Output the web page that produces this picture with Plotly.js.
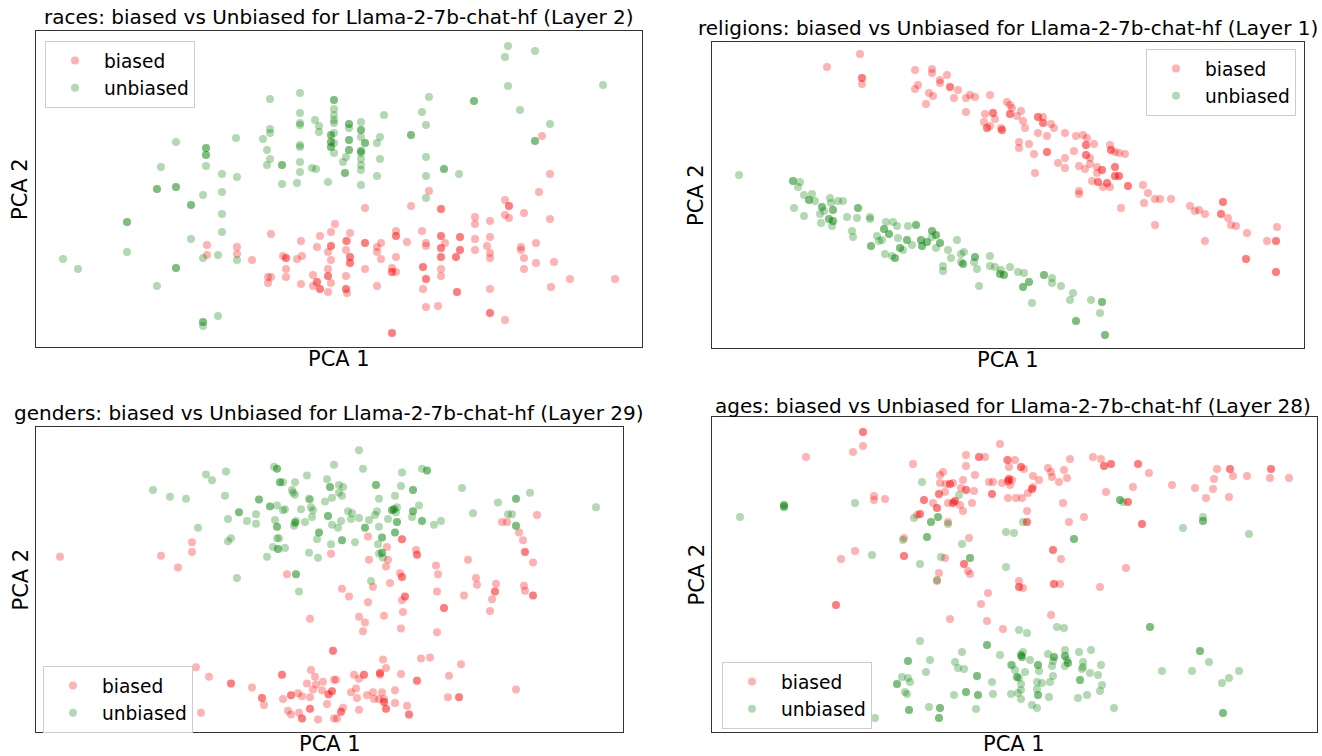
<!DOCTYPE html>
<html>
<head>
<meta charset="utf-8">
<script src="https://cdn.plot.ly/plotly-3.0.1.min.js"></script>
<style>html,body{margin:0;padding:0;background:#fff;}#chart{width:1322px;height:756px;}</style>
</head>
<body>
<div id="chart"></div>
<script>
// Values (arbitrary PCA units; y grows downward as read).
const seriesNames = ["biased", "unbiased"];
const panelTitles = [
  "races: biased vs Unbiased for Llama-2-7b-chat-hf (Layer 2)",
  "religions: biased vs Unbiased for Llama-2-7b-chat-hf (Layer 1)",
  "genders: biased vs Unbiased for Llama-2-7b-chat-hf (Layer 29)",
  "ages: biased vs Unbiased for Llama-2-7b-chat-hf (Layer 28)"
];
const xLabel = "PCA 1";
const yLabel = "PCA 2";

const racesBiased = [[335,224],[331,232],[271,234],[320,236],[301,241],[346,241],[207,245],[237,247],[331,246],[331,246],[328,252],[317,247],[346,250],[207,255],[237,254],[252,260],[283,256],[286,258],[286,258],[297,259],[302,256],[331,260],[286,269],[328,269],[268,277],[271,277],[268,283],[286,277],[313,275],[328,276],[328,276],[317,282],[317,282],[320,289],[320,289],[301,284],[313,286],[331,283],[328,292],[346,276],[346,289],[346,289],
[542,136],[550,174],[539,192],[429,191],[365,208],[411,206],[441,209],[441,209],[505,200],[509,206],[509,206],[505,215],[509,218],[524,213],[550,219],[475,217],[475,224],[490,221],[350,233],[396,231],[396,236],[396,236],[422,231],[347,241],[365,243],[365,243],[381,243],[377,247],[377,252],[407,242],[426,243],[426,246],[441,236],[441,236],[445,243],[441,248],[441,248],[441,257],[441,257],[460,237],[460,237],[460,250],[460,250],[475,239],[475,250],[490,237],[487,246],[490,253],[490,258],[456,257],[456,257],[350,257],[350,257],[350,263],[350,263],[381,259],[396,257],[521,247],[521,250],[536,243],[524,258],[536,263],[554,262],[365,269],[392,268],[392,272],[392,272],[396,272],[423,267],[423,267],[441,269],[441,276],[426,279],[426,279],[524,269],[570,279],[615,279],[551,287],[377,286],[347,293],[423,289],[457,292],[457,292],[490,289],[426,307],[438,306],[490,313],[490,313],[505,320],[392,333],[392,333]];

const racesUnbiased = [[300,93],[270,99],[334,100],[334,100],[334,109],[334,115],[334,120],[334,123],[300,113],[300,123],[300,125],[315,120],[319,126],[319,132],[270,129],[270,133],[331,135],[331,135],[334,133],[331,142],[331,142],[334,143],[331,147],[331,147],[334,153],[236,138],[263,139],[176,142],[300,145],[300,147],[206,148],[206,148],[206,155],[206,155],[267,150],[270,159],[267,165],[282,165],[282,165],[300,162],[312,168],[316,169],[300,172],[343,162],[345,173],[345,173],[161,167],[206,166],[222,174],[237,177],[282,184],[297,183],[328,182],[157,189],[157,189],[176,187],[176,187],[203,195],[222,192],[191,205],[191,205],[222,214],[127,222],[127,222],[222,232],[191,239],[127,252],[63,259],[78,269],[176,268],[176,268],[157,286],[203,258],[218,255],[237,260],[203,322],[203,322],[203,326],[218,316],
[508,46],[505,57],[535,51],[603,85],[508,86],[429,97],[474,101],[474,101],[520,110],[422,112],[384,115],[426,125],[550,124],[535,141],[535,141],[411,135],[411,135],[349,124],[349,124],[349,128],[349,140],[349,140],[349,150],[349,150],[361,122],[361,130],[361,130],[361,137],[361,151],[361,151],[361,153],[361,159],[361,165],[361,170],[365,143],[365,143],[380,137],[377,143],[380,159],[346,157],[361,185],[377,176],[426,157],[444,169],[444,169],[459,174],[426,176],[426,198]];

const religionsBiased = [[860,54],[827,67],[862,78],[862,78],[862,84],[915,70],[932,69],[932,73],[947,75],[940,80],[940,83],[950,87],[950,87],[958,90],[918,85],[915,89],[929,93],[933,96],[926,104],[954,98],[966,98],[970,95],[975,97],[990,95],[966,112],[1007,102],[1010,105],[1010,114],[1010,114],[985,114],[993,113],[993,113],[995,119],[984,122],[990,126],[987,128],[987,128],[1001,128],[1002,130],[1002,130],[1012,108],[1017,116],[1021,111],[1023,121],[1025,128],[1038,117],[1038,117],[1043,117],[1043,123],[1043,123],[1051,124],[1038,133],[1047,136],[1054,128],[1065,133],[1019,142],[1019,148],[1029,144],[1034,154],[1047,152],[1047,152],[1035,173],[1076,136],[1083,135],[1087,138],[1094,144],[1086,145],[1086,145],[1074,151],[1086,155],[1086,155],[1090,158],[1065,158],[1058,163],[1065,168],[1079,166],[1085,169],[1090,164],[1097,167],[1097,173],[1102,170],[1102,170],[1110,145],[1111,150],[1111,150],[1115,152],[1119,153],[1125,154],[1115,167],[1115,167],[1115,176],[1115,176],[1119,176],[1119,176],[1092,181],[1098,182],[1098,182],[1107,183],[1107,183],[1103,187],[1110,187],[1128,186],[1128,186],[1079,191],[1079,194],[1121,208],[1143,185],[1148,193],[1144,203],[1155,199],[1160,199],[1171,199],[1155,225],[1190,206],[1195,211],[1199,210],[1205,214],[1205,241],[1223,202],[1223,202],[1221,214],[1221,214],[1228,218],[1231,225],[1236,226],[1247,233],[1246,259],[1246,259],[1267,241],[1276,241],[1276,241],[1277,227],[1276,272],[1276,272]];

const religionsUnbiased = [[739,175],[793,181],[793,181],[800,182],[798,187],[804,195],[812,194],[809,200],[809,200],[815,201],[830,198],[838,201],[843,201],[794,208],[822,207],[822,207],[824,211],[833,210],[833,210],[831,203],[804,216],[820,214],[829,219],[829,219],[833,221],[833,221],[821,223],[832,226],[847,217],[857,218],[858,208],[858,208],[870,217],[870,219],[852,231],[853,237],[871,246],[871,246],[877,236],[879,241],[884,229],[884,229],[886,222],[893,222],[889,234],[889,234],[882,240],[897,226],[908,226],[916,225],[916,225],[898,238],[900,248],[900,248],[903,250],[907,240],[907,240],[912,245],[921,240],[921,240],[922,246],[922,246],[927,242],[927,242],[932,231],[932,231],[936,235],[936,235],[932,237],[940,243],[940,243],[936,248],[885,254],[892,256],[895,258],[895,258],[957,240],[948,250],[951,258],[961,254],[964,252],[963,264],[963,264],[961,262],[975,257],[975,257],[974,262],[977,269],[943,266],[943,271],[979,286],[990,256],[990,266],[995,267],[1001,270],[1000,274],[1000,274],[1004,275],[1004,275],[1010,267],[1018,272],[1024,273],[1029,282],[1029,282],[1023,287],[1023,287],[1044,275],[1044,275],[1052,278],[1052,283],[1061,286],[1032,303],[1073,293],[1070,300],[1091,300],[1102,302],[1102,302],[1100,313],[1076,321],[1076,321],[1105,335],[1105,335]];

const gendersBiased = [[192,536],[192,546],[161,550],[60,551],[178,562],[331,548],[287,569],[310,615],[333,648],[333,648],[196,665],[209,675],[231,682],[231,682],[252,686],[282,673],[282,673],[311,668],[315,675],[323,680],[316,683],[313,688],[307,682],[334,678],[322,689],[328,693],[332,690],[332,690],[262,697],[262,697],[291,694],[291,694],[298,692],[302,695],[310,696],[283,698],[264,704],[310,708],[310,708],[327,703],[288,710],[291,714],[299,712],[302,718],[302,718],[318,719],[334,718],[201,712],
[537,508],[502,515],[507,515],[519,526],[523,534],[525,546],[525,546],[533,557],[368,530],[402,533],[402,533],[387,541],[416,544],[417,549],[417,549],[369,554],[388,554],[386,561],[468,554],[436,560],[438,569],[400,568],[402,572],[402,572],[390,578],[373,582],[342,584],[349,592],[476,573],[477,580],[496,579],[495,587],[495,587],[492,595],[490,607],[524,581],[525,586],[533,591],[533,591],[464,591],[437,587],[405,592],[405,592],[402,596],[368,598],[444,604],[444,604],[403,608],[384,612],[359,613],[365,619],[363,628],[401,625],[437,629],[383,657],[386,666],[380,671],[380,671],[421,656],[430,655],[461,662],[354,673],[359,677],[364,673],[364,673],[336,678],[380,673],[401,672],[449,674],[417,679],[417,679],[356,687],[351,691],[357,697],[329,693],[367,694],[373,691],[374,698],[382,691],[379,698],[384,698],[384,701],[384,701],[386,708],[386,708],[395,689],[395,702],[407,705],[409,714],[409,714],[359,709],[343,707],[341,711],[341,711],[337,718],[448,696],[459,696],[459,696],[516,688]];

const gendersUnbiased = [[274,458],[277,460],[277,460],[307,467],[206,466],[212,472],[226,463],[153,482],[170,489],[186,491],[225,488],[280,474],[280,474],[283,474],[295,474],[292,482],[295,487],[293,485],[327,471],[330,479],[330,479],[334,456],[259,492],[259,492],[270,499],[270,499],[277,498],[283,503],[285,502],[301,502],[309,491],[310,492],[311,500],[313,503],[325,494],[332,490],[239,505],[239,505],[256,507],[228,512],[247,514],[256,517],[275,513],[295,516],[295,516],[296,514],[294,519],[305,515],[312,510],[328,509],[328,509],[332,518],[277,520],[277,520],[198,521],[319,526],[319,526],[317,533],[331,538],[228,535],[231,532],[277,532],[279,532],[273,541],[278,543],[278,543],[285,542],[267,551],[309,547],[318,552],[296,569],[296,569],[237,573],[299,587],
[359,441],[363,460],[402,464],[422,460],[427,462],[427,462],[376,477],[376,477],[339,477],[343,479],[339,485],[342,488],[401,478],[413,482],[413,482],[395,488],[379,491],[462,480],[530,485],[516,491],[516,491],[498,495],[419,498],[392,503],[392,503],[394,502],[394,502],[397,500],[396,505],[413,504],[413,504],[377,504],[375,508],[369,513],[348,504],[352,506],[351,512],[359,511],[341,514],[338,521],[388,512],[397,515],[397,515],[412,510],[422,514],[422,514],[434,518],[441,514],[473,506],[508,507],[512,507],[516,519],[516,519],[596,500],[365,521],[365,521],[379,520],[395,526],[395,526],[382,531],[382,531],[342,534],[342,534],[355,536],[378,538],[382,547],[382,547],[379,548],[383,552],[371,576]];

const agesBiased = [[863,432],[863,432],[863,446],[853,452],[806,457],[913,464],[966,455],[979,457],[979,457],[985,457],[1000,444],[1007,460],[1009,467],[966,466],[975,475],[943,472],[940,475],[940,483],[946,484],[950,484],[950,484],[953,483],[963,480],[961,488],[966,490],[966,490],[974,491],[989,482],[993,482],[1002,483],[1008,481],[1008,481],[1009,479],[1009,479],[939,494],[939,494],[945,492],[955,501],[955,501],[953,503],[953,503],[948,503],[960,505],[992,494],[992,494],[1008,498],[972,503],[924,500],[924,500],[933,503],[937,508],[937,508],[963,511],[874,496],[874,500],[885,499],[920,514],[920,514],[917,515],[948,522],[904,538],[969,538],[945,558],[855,551],[841,559],[904,556],[904,556],[964,564],[964,564],[968,571],[970,574],[939,573],[937,581],[988,593],[981,604],[836,605],[836,605],[950,619],[987,621],[1003,629],
[1008,460],[1015,460],[1021,467],[1021,467],[1024,469],[1033,476],[1039,480],[1048,468],[1051,472],[1052,477],[1064,470],[1067,478],[1059,482],[1070,459],[1093,457],[1101,459],[1104,466],[1104,466],[1111,464],[1111,464],[1138,464],[1138,464],[1149,473],[1010,485],[1012,480],[1033,487],[1032,489],[1032,489],[1028,493],[1016,498],[1022,498],[1027,511],[1027,522],[1027,522],[1063,503],[1069,522],[1084,517],[1106,492],[1133,487],[1128,502],[1128,502],[1142,524],[1142,524],[1172,485],[1195,488],[1206,498],[1213,489],[1214,479],[1217,469],[1230,469],[1230,469],[1233,476],[1247,476],[1229,497],[1271,469],[1271,469],[1270,478],[1289,478],[1053,550],[1053,550],[1061,559],[1126,568],[1019,581],[1019,587],[1019,587],[1023,588],[1054,584],[1054,584],[1060,584],[1100,587],[1051,615]];

const agesUnbiased = [[740,517],[784,505],[784,505],[784,507],[784,507],[855,503],[922,482],[959,495],[914,518],[931,522],[931,522],[938,517],[938,517],[948,524],[903,540],[927,537],[927,537],[962,544],[1006,532],[872,555],[920,564],[941,557],[970,558],[970,558],[937,580],[1006,567],[920,641],[987,645],[987,645],[962,652],[1000,655],[908,661],[908,661],[930,660],[955,662],[958,668],[964,669],[926,672],[902,677],[908,678],[910,682],[897,684],[897,684],[905,692],[907,694],[977,676],[977,676],[992,682],[966,692],[966,692],[954,695],[978,695],[978,695],[993,694],[1011,665],[909,710],[909,710],[929,707],[940,708],[940,708],[939,718],[939,718],[976,709],[875,718],
[1120,500],[1120,500],[1123,502],[1023,522],[1014,533],[1074,539],[1074,539],[1203,517],[1203,521],[1203,521],[1183,528],[1249,534],[1019,630],[1027,633],[1057,627],[1064,628],[1150,627],[1150,627],[1200,651],[1200,651],[1209,662],[1239,671],[1229,678],[1222,683],[1223,713],[1223,713],[1162,671],[1192,671],[1023,652],[1021,655],[1021,655],[1022,657],[1022,657],[1030,660],[1012,665],[1015,670],[1025,672],[1017,677],[1017,677],[1019,678],[1021,684],[1021,690],[1018,693],[1011,694],[1021,699],[1038,665],[1038,665],[1039,671],[1048,654],[1054,657],[1054,657],[1053,661],[1052,666],[1065,650],[1065,656],[1065,656],[1067,660],[1068,663],[1068,663],[1065,666],[1079,652],[1091,650],[1083,662],[1082,669],[1083,667],[1090,673],[1101,665],[1053,676],[1050,682],[1042,683],[1037,682],[1037,689],[1038,695],[1038,695],[1049,697],[1080,680],[1080,680],[1098,675],[1102,685],[1100,691],[1087,695],[1078,698],[1032,705],[1037,708],[1114,708]];

// Axis extents (PCA units, as read)
const xRanges = [[36,642],[712,1304],[36,623],[712,1317]];
const yRanges = [[347,31],[348,42],[732,417],[732,417]];

const panels = [
  {biased: racesBiased, unbiased: racesUnbiased},
  {biased: religionsBiased, unbiased: religionsUnbiased},
  {biased: gendersBiased, unbiased: gendersUnbiased},
  {biased: agesBiased, unbiased: agesUnbiased}
];

const W = 1322, H = 756;
// subplot boxes in pixels [left, top, right, bottom]
const boxes = [[36,31,642,347],[712,42,1304,348],[36,427,623,732],[712,417,1317,732]];
const titleY = [17, 28, 413, 406];
const titleX = [339, 1008, 329, 1013];
const legendPos = [[45,41],[1146,49],[43,666],[722,662]];
const colors = {biased: "rgba(255,0,0,0.3)", unbiased: "rgba(0,128,0,0.3)"};
const FONT = "DejaVu Sans, Liberation Sans, sans-serif";
const TITLE_SIZE = 20, LABEL_SIZE = 21, LEGEND_SIZE = 18.6;

const traces = [];
const layout = {
  width: W, height: H,
  margin: {l:0, r:0, t:0, b:0},
  paper_bgcolor: "#fff", plot_bgcolor: "#fff",
  font: {family: FONT, size: 18, color: "#000"},
  showlegend: true,
  annotations: []
};

panels.forEach((p, i) => {
  const n = i === 0 ? "" : String(i + 1);
  const legName = "legend" + n;
  ["biased", "unbiased"].forEach((key, k) => {
    const pts = p[key];
    traces.push({
      type: "scatter", mode: "markers",
      x: pts.map(d => d[0]), y: pts.map(d => d[1]),
      name: seriesNames[k],
      xaxis: "x" + n, yaxis: "y" + n,
      legend: legName,
      marker: {size: 8, color: colors[key], line: {width: 0}},
      hoverinfo: "x+y+name"
    });
  });
  const b = boxes[i];
  const axCommon = {showgrid: false, zeroline: false, showticklabels: false, ticks: "",
    showline: true, mirror: true, linecolor: "#333", linewidth: 1};
  layout["xaxis" + n] = Object.assign({}, axCommon, {
    domain: [b[0] / W, b[2] / W], range: xRanges[i], anchor: "y" + n});
  layout["yaxis" + n] = Object.assign({}, axCommon, {
    domain: [1 - b[3] / H, 1 - b[1] / H], range: yRanges[i], anchor: "x" + n});
  const lp = legendPos[i];
  layout[legName] = {
    x: lp[0] / W, y: 1 - lp[1] / H, xanchor: "left", yanchor: "top",
    xref: "paper", yref: "paper",
    bgcolor: "rgba(255,255,255,0.8)", bordercolor: "#cccccc", borderwidth: 1,
    font: {family: FONT, size: LEGEND_SIZE, color: "#000"},
    tracegroupgap: 0, itemwidth: 48
  };
  const cx = (b[0] + b[2]) / 2;
  layout.annotations.push({
    text: panelTitles[i], xref: "paper", yref: "paper",
    x: titleX[i] / W, y: 1 - titleY[i] / H, xanchor: "center", yanchor: "middle",
    showarrow: false, font: {family: FONT, size: TITLE_SIZE, color: "#000"}
  });
  layout.annotations.push({
    text: xLabel, xref: "paper", yref: "paper",
    x: cx / W, y: 1 - (b[3] + 12) / H, xanchor: "center", yanchor: "middle",
    showarrow: false, font: {family: FONT, size: LABEL_SIZE, color: "#000"}
  });
  layout.annotations.push({
    text: yLabel, xref: "paper", yref: "paper", textangle: -90,
    x: (b[0] - 16) / W, y: 1 - ((b[1] + b[3]) / 2) / H, xanchor: "center", yanchor: "middle",
    showarrow: false, font: {family: FONT, size: LABEL_SIZE, color: "#000"}
  });
});

Plotly.newPlot("chart", traces, layout, {displayModeBar: false, responsive: false});
</script>
</body>
</html>
